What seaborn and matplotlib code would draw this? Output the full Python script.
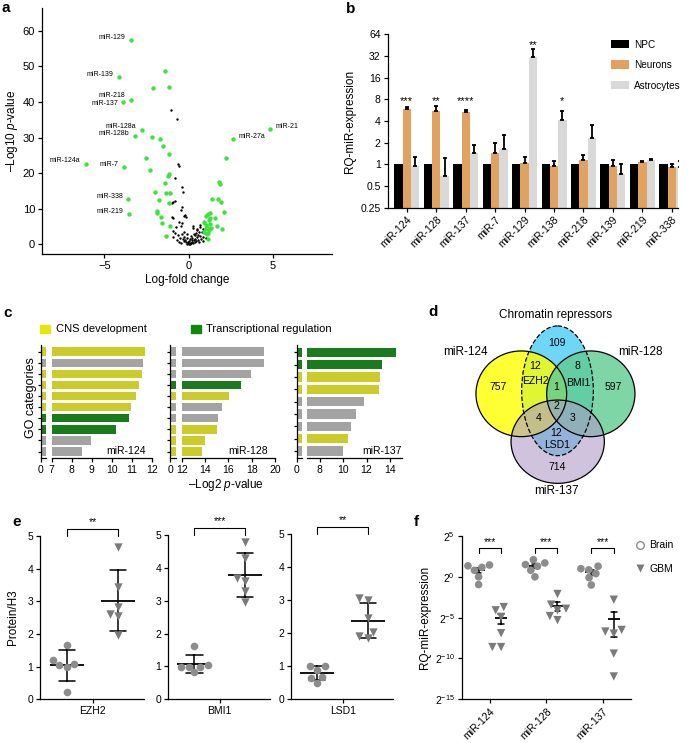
import numpy as np
import pandas as pd
import matplotlib
matplotlib.use('Agg')
import matplotlib.pyplot as plt
import seaborn as sns
from matplotlib.patches import Ellipse, Patch
from matplotlib.lines import Line2D
from matplotlib.ticker import LogFormatterSciNotation, NullLocator

# ---------------- data ----------------
# a: volcano plot (log-fold change, -log10 p)
a_lab_names = ['miR-129', 'miR-139', 'miR-218', 'miR-137', 'miR-128a', 'miR-128b',
               'miR-124a', 'miR-7', 'miR-338', 'miR-219', 'miR-21', 'miR-27a']
a_lab_x = [-3.43, -4.15, -3.41, -3.87, -2.76, -3.21, -6.09, -3.83, -3.57, -3.55, 4.80, 2.64]
a_lab_y = [57.3, 47.0, 40.6, 39.9, 32.0, 30.5, 22.7, 21.8, 12.7, 8.5, 32.3, 29.5]
a_green_x = [-1.39, -2.12, -1.15, -2.18, -1.73, -1.51, -1.15, -2.56, -2.28, -1.17, -1.21, -1.41,
             -1.98, -1.37, -1.11, -1.77, -1.17, -1.85, -1.88, -1.65, -1.61, -1.09, -1.37,
             2.22, 1.81, 1.83, 1.41, 1.71, 1.90, 2.12, 1.29, 1.17, 1.00, 1.59, 1.21, 0.91,
             1.29, 1.69, 1.11, 1.03, 1.23, 1.96, 0.93, 1.09, 1.17, 1.05, 1.15, 1.35, 1.25]
a_green_y = [48.7, 43.9, 44.1, 30.2, 29.5, 27.5, 25.4, 24.2, 20.9, 19.7, 19.1, 17.3,
             14.8, 14.3, 14.4, 12.5, 11.5, 9.4, 8.7, 7.8, 6.1, 5.2, 2.4,
             24.3, 17.6, 17.1, 12.8, 12.8, 12.0, 9.2, 8.9, 8.4, 8.0, 7.3, 6.8, 6.3,
             5.7, 5.3, 5.0, 4.2, 4.0, 4.3, 3.6, 2.9, 1.4, 5.5, 3.2, 4.5, 7.5]
a_black_x = [-1.05, -0.71, -0.64, -0.60, -0.80, -0.42, -0.36, -0.82, -0.93, -1.01, -0.42, -0.48,
             -0.22, -0.16, -0.26, -1.01, -0.92, -0.56, -0.42, -0.48, -0.76, -0.92, -0.82, -0.95,
             -0.62, -0.52, -0.68, 0.27, 0.47, 0.67, 0.77, 0.87, 0.57, 0.83, 0.97,
             -0.35, -0.30, -0.25, -0.20, -0.15, -0.10, -0.05, 0.00, 0.00, 0.05, 0.10, 0.12,
             0.15, 0.20, 0.22, 0.25, 0.30, 0.32, 0.35, 0.40, 0.42, 0.45, 0.50, 0.55, 0.60,
             0.62, 0.70, 0.75, -0.40, -0.30, -0.12, 0.08, -0.02, 0.18, -0.08, 0.28, 0.38,
             0.52, 0.65, 0.90, -0.55, -0.45, 0.85, 1.00]
a_black_y = [37.8, 35.3, 22.5, 22.0, 18.7, 16.2, 14.8, 12.2, 11.9, 11.5, 10.6, 9.6,
             8.2, 7.8, 8.0, 7.8, 7.3, 6.4, 5.9, 5.1, 4.8, 3.8, 3.1, 2.1,
             2.6, 1.7, 1.2, 4.5, 4.0, 4.8, 3.5, 4.2, 2.6, 2.1, 3.1,
             1.5, 0.9, 2.2, 1.2, 0.6, 1.8, 0.4, 0.2, 1.0, 0.5, 1.4, 0.3,
             2.4, 0.8, 1.9, 0.4, 1.2, 2.9, 0.7, 1.6, 3.2, 0.9, 2.0, 1.3, 3.6,
             0.8, 2.3, 1.5, 3.0, 3.6, 0.1, 0.1, 0.7, 1.1, 2.8, 5.2, 2.6,
             4.4, 5.5, 5.9, 0.6, 0.3, 1.0, 1.8]

# b: qPCR bars
b_mirs = ['miR-124', 'miR-128', 'miR-137', 'miR-7', 'miR-129', 'miR-138',
          'miR-218', 'miR-139', 'miR-219', 'miR-338']
b_cells = ['NPC', 'Neurons', 'Astrocytes']
b_npc = [1, 1, 1, 1, 1, 1, 1, 1, 1, 1]
b_neurons = [5.8, 5.5, 5.3, 1.42, 1.03, 0.94, 1.14, 0.94, 1.08, 0.93]
b_neurons_top = [6.3, 6.45, 5.6, 2.0, 1.28, 1.1, 1.35, 1.15, 1.11, 1.0]
b_astro = [0.96, 0.70, 1.45, 1.65, 30.7, 4.1, 2.3, 0.73, 1.15, 0.93]
b_astro_top = [1.28, 1.21, 1.85, 2.55, 39.6, 5.5, 3.47, 1.0, 1.2, 1.11]
b_star_text = ['***', '**', '****', '**', '*']
b_star_mir = [0, 1, 2, 4, 5]
b_star_cell = [1, 1, 1, 2, 2]
b_star_y = [7.6, 7.6, 7.6, 46, 7.6]

# c: GO enrichment (-log2 p), colour class per bar
go_names = ['miR-124', 'miR-128', 'miR-137']
go_vals = [[11.67, 11.58, 11.52, 11.35, 11.2, 10.98, 10.88, 10.2, 8.98, 8.53],
           [19.07, 19.07, 17.93, 17.07, 16.03, 15.45, 15.1, 15.02, 14.02, 13.76],
           [14.53, 13.3, 13.19, 13.1, 11.76, 11.11, 10.71, 10.45, 9.97]]
go_class = [['cns', 'oth', 'cns', 'cns', 'cns', 'cns', 'tr', 'tr', 'oth', 'oth'],
            ['oth', 'oth', 'oth', 'tr', 'cns', 'oth', 'oth', 'cns', 'cns', 'cns'],
            ['tr', 'tr', 'cns', 'cns', 'oth', 'oth', 'oth', 'cns', 'oth']]

# d: Venn counts
venn_counts = ['757', '597', '714', '109', '12', '8', '12', '1', '2', '4', '3']
venn_genes = ['EZH2', 'BMI1', 'LSD1']

# e: protein / H3
e_proteins = ['EZH2', 'BMI1', 'LSD1']
e_brain = [[1.66, 1.2, 1.05, 1.0, 1.08, 0.23],
           [1.62, 1.04, 0.99, 0.99, 0.99, 0.82],
           [1.0, 1.0, 0.9, 0.68, 0.63, 0.5]]
e_gbm = [[4.65, 3.45, 2.61, 2.55, 2.84, 1.97],
         [4.8, 4.3, 3.6, 3.7, 3.3, 2.95],
         [3.0, 3.05, 2.45, 2.05, 1.9, 1.85]]
e_stars = ['**', '***', '**']

# f: RQ expression (log2 exponents) brain vs GBM
f_mirs = ['miR-124', 'miR-128', 'miR-137']
f_brain_log2 = [[1.35, 1.45, 1.15, 0.8, 0.0, -0.95],
                [2.1, 1.7, 1.5, 1.3, 0.8, 0.0],
                [1.3, 1.0, 0.85, 0.4, -0.1, -1.0]]
f_gbm_log2 = [[-3.7, -4.1, -4.9, -6.9, -8.6, -8.6],
              [-2.1, -3.4, -3.9, -4.8, -5.3, -4.1],
              [-2.8, -6.5, -6.7, -6.95, -9.4, -12.2]]
f_stars = ['***', '***', '***']

# ---------------- style ----------------
sns.set_theme(style='ticks')
plt.rcParams['font.family'] = ['Liberation Sans', 'DejaVu Sans']
plt.rcParams.update({
    'mathtext.fontset': 'custom',
    'mathtext.rm': 'Liberation Sans',
    'mathtext.it': 'Liberation Sans:italic',
    'axes.linewidth': 0.9,
    'xtick.major.width': 0.9, 'ytick.major.width': 0.9,
    'xtick.major.size': 3, 'ytick.major.size': 3,
    'xtick.major.pad': 2, 'ytick.major.pad': 2,
    'xtick.labelsize': 7.5, 'ytick.labelsize': 7.5,
    'axes.labelsize': 8.5,
    'text.color': 'black', 'axes.labelcolor': 'black',
    'xtick.color': 'black', 'ytick.color': 'black', 'axes.edgecolor': 'black',
})

W, H = 689, 743
fig = plt.figure(figsize=(W / 100, H / 100), dpi=100)


def box(l, t, r, b):
    return [l / W, 1 - b / H, (r - l) / W, (b - t) / H]


def letter(x, y, s):
    fig.text(x / W, 1 - y / H, s, fontsize=11, fontweight='bold', ha='left', va='center')


GREEN = '#3DE23D'
GREY = '#8C8C8C'

# ---------------- a ----------------
ax = fig.add_axes(box(42, 8, 332, 254))
sns.scatterplot(x=a_black_x, y=a_black_y, color='black', s=3, linewidth=0, ax=ax)
sns.scatterplot(x=a_green_x, y=a_green_y, color=GREEN, s=10, linewidth=0, ax=ax)
sns.scatterplot(x=a_lab_x, y=a_lab_y, color=GREEN, s=10, linewidth=0, ax=ax)
lab_dy = {'miR-137': -1.0, 'miR-218': 2.8, 'miR-128a': 3.0}
for name, x, y in zip(a_lab_names, a_lab_x, a_lab_y):
    right = x > 0
    ax.annotate(name, (x, y), xytext=(4 if right else -4, lab_dy.get(name, 2.0)),
                textcoords='offset points', ha='left' if right else 'right',
                va='center', fontsize=5)
ax.set_xlim(-8.7, 8.5)
ax.set_ylim(-2.7, 66.4)
ax.set_xticks([-5, 0, 5])
ax.set_xticklabels(['\u22125', '0', '5'])
ax.set_yticks(range(0, 61, 10))
ax.tick_params(labelsize=8)
ax.set_xlabel('Log-fold change', fontsize=8.5, labelpad=2)
ax.set_ylabel('\u2013Log10 $p$-value', fontsize=8.5, labelpad=2)
sns.despine(ax=ax)
letter(1, 8, 'a')

# ---------------- b ----------------
df_b = pd.DataFrame({
    'mir': b_mirs * 3,
    'cell': [c for c in b_cells for _ in b_mirs],
    'value': b_npc + b_neurons + b_astro,
})
ax = fig.add_axes(box(387.7, 34.3, 678.3, 207.7))
sns.barplot(df_b, x='mir', y='value', hue='cell', hue_order=b_cells,
            palette=['black', '#F7A24A', '#D9D9D9'], width=0.85, errorbar=None,
            linewidth=0, ax=ax)
for cont, tops in zip(ax.containers[1:], [b_neurons_top, b_astro_top]):
    for bar, top in zip(cont, tops):
        x = bar.get_x() + bar.get_width() / 2
        h = bar.get_height()
        ax.errorbar(x, h, yerr=[[0], [max(top - h, 0)]], fmt='none', ecolor='black',
                    elinewidth=1.3, capsize=1.6, capthick=1.3)
for s, m, c, y in zip(b_star_text, b_star_mir, b_star_cell, b_star_y):
    bar = ax.containers[c][m]
    ax.text(bar.get_x() + bar.get_width() / 2, y, s, ha='center', va='center', fontsize=8)
ax.set_yscale('log', base=2)
ax.set_ylim(0.25, 64)
ax.set_xlim(-0.65, 9.22)
yt = [0.25, 0.5, 1, 2, 4, 8, 16, 32, 64]
ax.set_yticks(yt)
ax.set_yticklabels(['0.25', '0.5', '1', '2', '4', '8', '16', '32', '64'])
ax.yaxis.set_minor_locator(NullLocator())
ax.set_xticks(range(len(b_mirs)))
ax.set_xticklabels(b_mirs, rotation=45, ha='right', rotation_mode='anchor')
ax.set_xlabel('')
ax.set_ylabel('RQ-miR-expression', fontsize=8.5, labelpad=3)
h_, l_ = ax.get_legend_handles_labels()
ax.legend(h_, l_, loc='upper left', bbox_to_anchor=(0.77, 0.97), frameon=False,
          fontsize=7.2, handlelength=1.75, handleheight=0.9, labelspacing=1.05,
          handletextpad=0.5, borderaxespad=0, borderpad=0)
sns.despine(ax=ax)
letter(346, 9, 'b')

# ---------------- c ----------------
go_colors = {'cns': '#E6E60F', 'tr': '#0B8A0B', 'oth': '#A3A3A3'}
c_layout = [((40.7, 46.5), (51.7, 151.7), (7, 12), [7, 8, 9, 10, 11, 12], 0.94),
            ((170, 175.7), (181.7, 275.3), (12, 20), [12, 14, 16, 18, 20], 0.925),
            ((296.7, 302), (306.7, 401.7), (6.9, 15.0), [8, 10, 12, 14], 0.995)]
c_top, c_bot = 345, 457.7
for name, vals, cls, (stub, main, lim, ticks, tx) in zip(go_names, go_vals, go_class, c_layout):
    n = len(vals)
    df = pd.DataFrame({'term': [f't{i}' for i in range(n)], 'score': vals})
    pal = [go_colors[c] for c in cls]
    ax_s = fig.add_axes(box(stub[0], c_top, stub[1], c_bot))
    ax_m = fig.add_axes(box(main[0], c_top, main[1], c_bot))
    for a_, xl in ((ax_s, (0, 1)), (ax_m, lim)):
        sns.barplot(df, x='score', y='term', hue='term', palette=pal, legend=False,
                    width=0.75, linewidth=0, ax=a_)
        a_.set_xlim(xl)
        a_.set_ylim(n - 0.45, -0.6)
        a_.set_xlabel('')
        a_.set_ylabel('')
    ax_s.set_xticks([0])
    ax_s.set_yticks(range(n))
    ax_s.set_yticklabels([])
    ax_s.tick_params(axis='y', length=2.5)
    sns.despine(ax=ax_s)
    ax_m.set_xticks(ticks)
    ax_m.set_yticks([])
    sns.despine(ax=ax_m, left=True)
    ax_m.text(tx, 0.06, name, transform=ax_m.transAxes, ha='right', va='center', fontsize=7.5)
fig.text(31 / W, 1 - 398 / H, 'GO categories', rotation=90, ha='center', va='center', fontsize=9)
fig.text(226 / W, 1 - 485 / H, '\u2013Log2 $p$-value', ha='center', va='center', fontsize=8.5)
fig.legend(handles=[Patch(color=go_colors['cns'], label='CNS development'),
                    Patch(color=go_colors['tr'], label='Transcriptional regulation')],
           loc='center left', bbox_to_anchor=(40 / W, 1 - 329.5 / H), ncol=2, frameon=False,
           fontsize=8, handlelength=0.9, handleheight=0.75, handletextpad=0.5,
           columnspacing=4.0, borderaxespad=0, borderpad=0)
letter(3, 313, 'c')

# ---------------- d ----------------
ax = fig.add_axes(box(430, 298, 689, 500))
ax.set_xlim(430, 689)
ax.set_ylim(500, 298)
ax.axis('off')
# chromatin repressors drawn first so the miRNA circles tint over it
venn_shapes = [((557.5, 390.8), 71.7, 129.7, '#30C7F5', 0.7, '--'),
               ((521.3, 393.8), 90.7, 85.7, '#FFFF00', 0.8, '-'),
               ((590.8, 393.8), 88.3, 85.7, '#5ECC90', 0.8, '-'),
               ((557.7, 441.7), 93.3, 83.3, '#AF9BC8', 0.6, '-')]
for (cxy, w, h, col, al, ls) in venn_shapes:
    ax.add_patch(Ellipse(cxy, w, h, facecolor=col, alpha=al, edgecolor='none'))
for (cxy, w, h, col, al, ls) in venn_shapes:
    ax.add_patch(Ellipse(cxy, w, h, facecolor='none', edgecolor='black', lw=0.9, ls=ls))
venn_pos = [(498.3, 386.7), (613.3, 386.7), (557.3, 467.3), (557, 343.3), (535, 366),
            (577.3, 366), (555.7, 432.7), (556, 387.3), (556, 406), (538.7, 417.7),
            (572.7, 418.3)]
for t, (x, y) in zip(venn_counts, venn_pos):
    ax.text(x, y, t, ha='center', va='center', fontsize=7.5)
for t, (x, y) in zip(venn_genes, [(535, 380.7), (578.3, 382.7), (556.7, 445)]):
    ax.text(x, y, t, ha='center', va='center', fontsize=7.5)
for t, (x, y) in zip(['miR-124', 'miR-128', 'miR-137', 'Chromatin repressors'],
                     [(465, 352), (640, 352), (556.7, 490.7), (556, 315)]):
    ax.text(x, y, t, ha='center', va='center', fontsize=8.5)
letter(428, 312, 'd')

# ---------------- e ----------------
e_boxes = [(40, 536, 144, 699.3), (168.3, 535, 270, 699.3), (291, 534, 393.3, 699.3)]
for i, (prot, br, gb, st, bx) in enumerate(zip(e_proteins, e_brain, e_gbm, e_stars, e_boxes)):
    ax = fig.add_axes(box(*bx))
    df = pd.DataFrame({'group': ['Brain'] * len(br) + ['GBM'] * len(gb), 'value': br + gb})
    sns.swarmplot(df[df.group == 'Brain'], x='group', y='value', order=['Brain', 'GBM'],
                  marker='o', size=5.5, color=GREY, ax=ax)
    coll = ax.collections[-1]
    coll.set_facecolor('none')
    coll.set_edgecolor(GREY)
    coll.set_linewidth(1.0)
    sns.swarmplot(df[df.group == 'GBM'], x='group', y='value', order=['Brain', 'GBM'],
                  marker='v', size=6, color='#7A7A7A', linewidth=0, ax=ax)
    sns.pointplot(df, x='group', y='value', order=['Brain', 'GBM'], estimator='mean',
                  errorbar='sd', color='black', markers='_', linestyles='none',
                  markersize=25, markeredgewidth=1.3, capsize=0.32,
                  err_kws={'linewidth': 1.1}, ax=ax)
    ax.set_xlim(-0.52, 1.5)
    ax.set_ylim(0, 5)
    ax.set_yticks(range(6))
    ax.set_xticks([0.5])
    ax.set_xticklabels([prot])
    ax.set_xlabel('')
    ax.set_ylabel('Protein/H3' if i == 0 else '', fontsize=8.5, labelpad=6)
    ax.plot([0, 0, 1, 1], [5.0, 5.2, 5.2, 5.0], color='black', lw=0.8, clip_on=False)
    ax.text(0.5, 5.27, st, ha='center', va='bottom', fontsize=7.5)
    sns.despine(ax=ax)
letter(12, 522, 'e')

# ---------------- f ----------------
ax = fig.add_axes(box(461.7, 536, 630.7, 699.3))
df_f = pd.DataFrame({
    'mir': [m for m, v in zip(f_mirs, f_brain_log2) for _ in v] +
           [m for m, v in zip(f_mirs, f_gbm_log2) for _ in v],
    'group': ['Brain'] * sum(len(v) for v in f_brain_log2) + ['GBM'] * sum(len(v) for v in f_gbm_log2),
    'value': [2.0 ** x for v in f_brain_log2 for x in v] + [2.0 ** x for v in f_gbm_log2 for x in v],
})
pal_f = {'Brain': GREY, 'GBM': '#7A7A7A'}
sns.swarmplot(df_f[df_f.group == 'Brain'], x='mir', y='value', hue='group',
              hue_order=['Brain', 'GBM'], order=f_mirs, dodge=True, palette=pal_f,
              marker='o', size=5.5, legend=False, ax=ax)
coll = ax.collections[-1]
coll.set_facecolor('none')
coll.set_edgecolor(GREY)
coll.set_linewidth(1.0)
sns.swarmplot(df_f[df_f.group == 'GBM'], x='mir', y='value', hue='group',
              hue_order=['Brain', 'GBM'], order=f_mirs, dodge=True, palette=pal_f,
              marker='v', size=6, linewidth=0, legend=False, ax=ax)
sns.pointplot(df_f, x='mir', y='value', hue='group', hue_order=['Brain', 'GBM'],
              order=f_mirs, estimator='mean', errorbar='se', dodge=0.4,
              palette={'Brain': 'black', 'GBM': 'black'}, markers='_', linestyles='none',
              markersize=8, markeredgewidth=1.3, capsize=0.1,
              err_kws={'linewidth': 1.1}, legend=False, ax=ax)
ax.set_yscale('log', base=2)
ax.set_ylim(2.0 ** -15, 2.0 ** 5)
ax.set_xlim(-0.5, 2.5)
ax.set_yticks([2.0 ** k for k in (-15, -10, -5, 0, 5)])
ax.yaxis.set_major_formatter(LogFormatterSciNotation(base=2))
ax.yaxis.set_minor_locator(NullLocator())
ax.set_xticks(range(3))
ax.set_xticklabels(f_mirs, rotation=45, ha='right', rotation_mode='anchor')
ax.set_xlabel('')
ax.set_ylabel('RQ-miR-expression', fontsize=8.5, labelpad=3)
for i, st in enumerate(f_stars):
    ax.plot([i - 0.2, i - 0.2, i + 0.2, i + 0.2],
            [2 ** 2.9, 2 ** 3.5, 2 ** 3.5, 2 ** 2.9], color='black', lw=0.8)
    ax.text(i, 2 ** 3.7, st, ha='center', va='bottom', fontsize=7.5)
ax.legend(handles=[Line2D([], [], marker='o', mfc='none', mec=GREY, mew=1.0, ls='none', ms=5.5),
                   Line2D([], [], marker='v', mfc='#7A7A7A', mec='none', ls='none', ms=6)],
          labels=['Brain', 'GBM'], loc='upper left', bbox_to_anchor=(1.0, 1.0), frameon=False,
          fontsize=7.5, handlelength=1.0, handletextpad=0.4, labelspacing=1.3,
          borderaxespad=0)
sns.despine(ax=ax)
letter(414, 522, 'f')

fig.savefig('out.png', dpi=100)
